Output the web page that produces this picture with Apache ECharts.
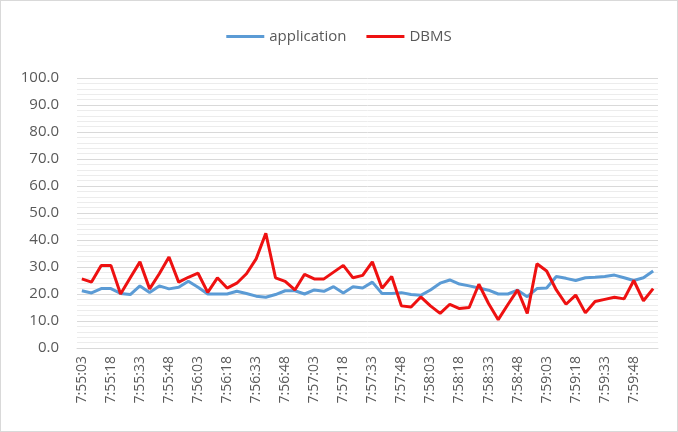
<!DOCTYPE html>
<html>
<head>
<meta charset="utf-8">
<script src="https://cdn.jsdelivr.net/npm/echarts@6/dist/echarts.min.js"></script>
<style>
  html, body { margin: 0; padding: 0; background: #fff; }
  #chart { width: 676px; height: 430px; border: 1px solid #d9d9d9; }
</style>
</head>
<body>
<div id="chart"></div>
<script>
// sample times, every 5 s
var times = [
  '7:55:03','7:55:08','7:55:13','7:55:18','7:55:23','7:55:28','7:55:33','7:55:38','7:55:43','7:55:48','7:55:53','7:55:58',
  '7:56:03','7:56:08','7:56:13','7:56:18','7:56:23','7:56:28','7:56:33','7:56:38','7:56:43','7:56:48','7:56:53','7:56:58',
  '7:57:03','7:57:08','7:57:13','7:57:18','7:57:23','7:57:28','7:57:33','7:57:38','7:57:43','7:57:48','7:57:53','7:57:58',
  '7:58:03','7:58:08','7:58:13','7:58:18','7:58:23','7:58:28','7:58:33','7:58:38','7:58:43','7:58:48','7:58:53','7:58:58',
  '7:59:03','7:59:08','7:59:13','7:59:18','7:59:23','7:59:28','7:59:33','7:59:38','7:59:43','7:59:48','7:59:53','7:59:58'
];

var application = [
  21.2, 20.4, 22.0, 22.0, 20.2, 19.8, 23.0, 20.6, 23.0, 21.9, 22.5, 24.7,
  22.5, 20.0, 20.0, 20.0, 21.0, 20.2, 19.2, 18.8, 19.8, 21.2, 21.2, 20.0,
  21.5, 21.0, 22.7, 20.4, 22.7, 22.2, 24.4, 20.2, 20.2, 20.5, 19.8, 19.5,
  21.5, 24.0, 25.2, 23.7, 23.0, 22.2, 21.4, 20.0, 20.0, 21.4, 19.0, 22.0,
  22.2, 26.5, 25.8, 25.0, 26.0, 26.2, 26.5, 27.0, 26.0, 25.0, 26.0, 28.5
];

var dbms = [
  25.6, 24.4, 30.6, 30.6, 20.0, 26.0, 31.9, 21.9, 27.5, 33.7, 24.4, 26.2,
  27.7, 20.6, 26.0, 22.2, 24.0, 27.5, 33.0, 42.5, 26.0, 24.7, 21.5, 27.3,
  25.6, 25.6, 28.1, 30.6, 26.0, 26.9, 31.9, 22.1, 26.5, 15.6, 15.2, 18.9,
  15.6, 12.8, 16.2, 14.6, 15.0, 23.6, 16.5, 10.5, 16.1, 21.5, 12.8, 31.2,
  28.5, 21.5, 16.2, 19.6, 13.0, 17.2, 18.0, 18.8, 18.2, 25.0, 17.5, 22.0
];

var yTicks = { min: 0, max: 100, interval: 10 };

var chart = echarts.init(document.getElementById('chart'));
var labelFont = 'Open Sans, DejaVu Sans, sans-serif';

var option = {
  animation: false,
  legend: {
    top: 23,
    left: 'center',
    itemWidth: 38,
    itemHeight: 3,
    itemGap: 20,
    icon: 'rect',
    textStyle: { color: '#595959', fontSize: 15, fontFamily: labelFont },
    data: ['application', 'DBMS']
  },
  grid: { left: 76, right: 19, top: 77, bottom: 83 },
  xAxis: {
    type: 'category',
    data: times,
    boundaryGap: true,
    axisLine: { lineStyle: { color: '#d9d9d9' } },
    axisTick: { show: false },
    axisLabel: {
      interval: 2,
      rotate: 90,
      color: '#595959',
      fontSize: 14,
      fontFamily: labelFont,
      margin: 8
    },
    splitLine: { show: false }
  },
  yAxis: {
    type: 'value',
    min: yTicks.min,
    max: yTicks.max,
    interval: yTicks.interval,
    axisLine: { show: false },
    axisTick: { show: false },
    axisLabel: {
      color: '#595959',
      fontSize: 15,
      fontFamily: labelFont,
      margin: 18,
      formatter: function (v) { return v.toFixed(1); }
    },
    splitLine: { lineStyle: { color: '#d9d9d9', width: 1 } },
    minorTick: { show: false, splitNumber: 5 },
    minorSplitLine: { show: true, lineStyle: { color: '#ececec', width: 1 } }
  },
  series: [
    {
      name: 'application',
      type: 'line',
      data: application,
      symbol: 'none',
      lineStyle: { color: '#5b9bd5', width: 3 },
      itemStyle: { color: '#5b9bd5' }
    },
    {
      name: 'DBMS',
      type: 'line',
      data: dbms,
      symbol: 'none',
      lineStyle: { color: '#ee1111', width: 3 },
      itemStyle: { color: '#ee1111' }
    }
  ]
};

chart.setOption(option);
</script>
</body>
</html>
